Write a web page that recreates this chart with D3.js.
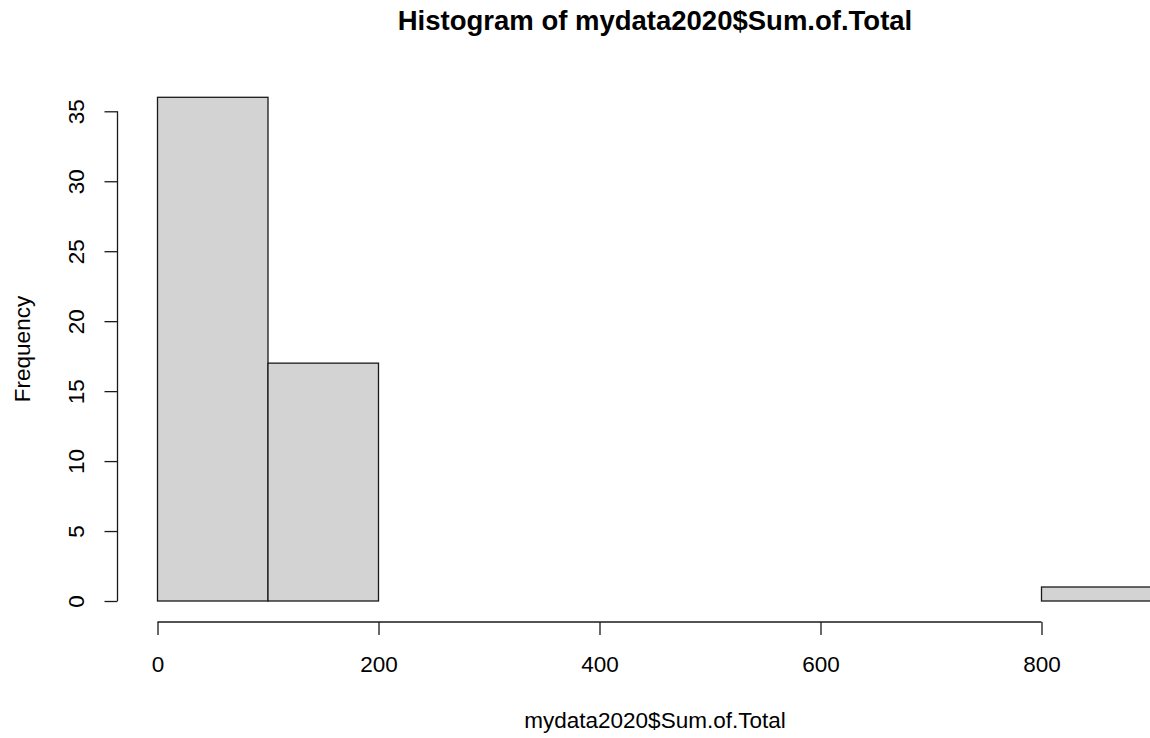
<!DOCTYPE html>
<html><head><meta charset="utf-8">
<script src="https://cdn.jsdelivr.net/npm/d3@7"></script>
<style>
html,body{margin:0;padding:0;background:#fff;}
text{font-family:"Liberation Sans",Arial,sans-serif;fill:#000;}
</style></head>
<body>
<svg id="chart" width="1150" height="738"></svg>
<script>
const binStarts = [0, 100, 200, 300, 400, 500, 600, 700, 800];
const binEnds   = [100, 200, 300, 400, 500, 600, 700, 800, 900];
const counts    = [36, 17, 0, 0, 0, 0, 0, 0, 1];
const xTicks = [0, 200, 400, 600, 800];
const yTicks = [0, 5, 10, 15, 20, 25, 30, 35];
const titleText = "Histogram of mydata2020$Sum.of.Total";
const xLabel = "mydata2020$Sum.of.Total";
const yLabel = "Frequency";

const svg = d3.select("#chart");
const x = d3.scaleLinear().domain([0, 900]).range([157.5, 1152]);
const y = d3.scaleLinear().domain([0, 36]).range([601, 97.3]);
const stroke = "#1a1a1a";
const labelSize = 22.5;

const bins = binStarts.map((s, i) => ({x0: s, x1: binEnds[i], n: counts[i]}));
svg.append("g").selectAll("rect").data(bins).join("rect")
  .attr("x", d => x(d.x0))
  .attr("y", d => y(d.n))
  .attr("width", d => x(d.x1) - x(d.x0))
  .attr("height", d => y(0) - y(d.n))
  .attr("fill", "#d3d3d3")
  .attr("stroke", stroke)
  .attr("stroke-width", 1.3);

// x axis
const xAxis = d3.axisBottom(x).tickValues(xTicks).tickSize(13).tickSizeOuter(0).tickFormat(d3.format("d"));
const gx = svg.append("g").attr("transform", "translate(0,622)").call(xAxis);
gx.select(".domain").attr("d", `M${x(0)},0H${x(800)}`).attr("stroke", stroke).attr("stroke-width", 1.3);
gx.selectAll(".tick line").attr("stroke", stroke).attr("stroke-width", 1.3);
gx.selectAll(".tick text").attr("font-size", labelSize).attr("font-family", "Liberation Sans, Arial, sans-serif").attr("fill", "#000").attr("dy", null).attr("y", 50);

// y axis
const yAxis = d3.axisLeft(y).tickValues(yTicks).tickSize(13).tickSizeOuter(0);
const gy = svg.append("g").attr("transform", "translate(117.5,0)").call(yAxis);
gy.select(".domain").attr("d", `M0,${y(0)}V${y(35)}`).attr("stroke", stroke).attr("stroke-width", 1.3);
gy.selectAll(".tick line").attr("stroke", stroke).attr("stroke-width", 1.3);
gy.selectAll(".tick text")
  .attr("font-size", labelSize).attr("font-family", "Liberation Sans, Arial, sans-serif").attr("fill", "#000")
  .attr("x", null).attr("dy", null)
  .attr("text-anchor", "middle")
  .attr("transform", "translate(-34,0) rotate(-90)");

svg.append("text").attr("x", 655).attr("y", 30).attr("text-anchor", "middle")
  .attr("font-size", 27.5).attr("font-weight", "bold").text(titleText);
svg.append("text").attr("x", 655).attr("y", 728).attr("text-anchor", "middle")
  .attr("font-size", labelSize).text(xLabel);
svg.append("text").attr("transform", "translate(29.5,349) rotate(-90)").attr("text-anchor", "middle")
  .attr("font-size", labelSize).text(yLabel);
</script>
</body></html>
